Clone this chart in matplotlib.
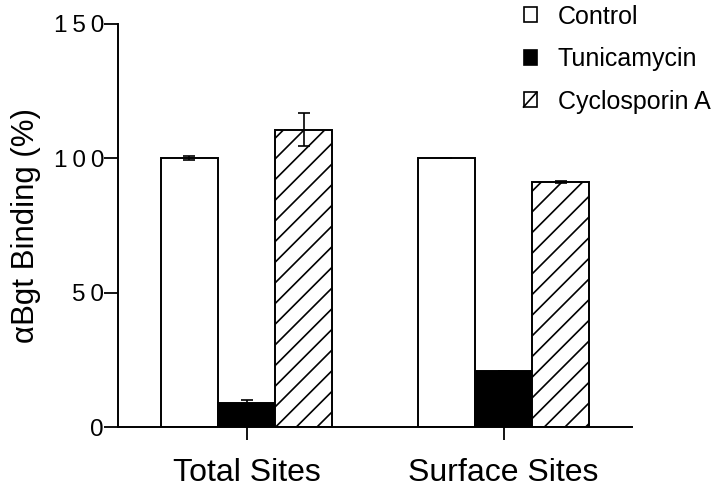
import numpy as np
import matplotlib.pyplot as plt
from matplotlib.patches import Patch, Rectangle
from matplotlib.lines import Line2D
from matplotlib.legend_handler import HandlerPatch

# render at 124 dpi so the '//' hatch spacing matches the original;
# all sizes below are written as "points at 100 dpi" and scaled by k
DPI = 124
k = 100 / DPI

plt.rcParams['font.family'] = ['Liberation Sans', 'DejaVu Sans']
plt.rcParams['hatch.linewidth'] = 1.2 * k

groups = ["Total Sites", "Surface Sites"]
series = ["Control", "Tunicamycin", "Cyclosporin A"]
control = [100, 100]
tunicamycin = [9, 21]
cyclosporin = [110.7, 91.2]
control_err = [0.8, 0]
tunicamycin_err = [0.9, 0]
cyclosporin_err = [6, 0.5]


class SquareHandler(HandlerPatch):
    # square swatch; hatched ones get a single diagonal like the print
    def create_artists(self, legend, orig_handle, xdescent, ydescent,
                       width, height, fontsize, trans):
        rect = Rectangle((-xdescent, -ydescent), width, height,
                         facecolor=orig_handle.get_facecolor(),
                         edgecolor="black", linewidth=1.2 * k, transform=trans)
        arts = [rect]
        if orig_handle.get_hatch():
            arts.append(Line2D([-xdescent, -xdescent + width],
                               [-ydescent, -ydescent + height],
                               color="black", linewidth=1.2 * k, transform=trans))
        return arts


fig = plt.figure(figsize=(720 / DPI, 489 / DPI), dpi=DPI)
ax = fig.add_axes([118 / 720, 1 - 427 / 489, (632 - 118) / 720, (427 - 24) / 489])

x = np.arange(len(groups))
w = 0.223
faces = ["white", "black", "white"]
hatches = [None, None, "//"]
values = [control, tunicamycin, cyclosporin]
errs = [control_err, tunicamycin_err, cyclosporin_err]
for i, (vals, err) in enumerate(zip(values, errs)):
    pos = x + (i - 1) * w
    ax.bar(pos, vals, width=w, edgecolor="black", linewidth=1.4 * k,
           facecolor=faces[i], hatch=hatches[i], zorder=2)
    ax.errorbar(pos, vals, yerr=err, fmt="none", ecolor="black",
                elinewidth=1.2 * k, capsize=4 * k, capthick=1.2 * k, zorder=3)

ax.set_xlim(-0.5, 1.5)
ax.set_ylim(0, 150)
ax.set_yticks([0, 50, 100, 150])
ax.set_yticklabels(["0", "5\u20090", "1\u20090\u20090", "1\u20095\u20090"])
ax.set_xticks(x)
ax.set_xticklabels(groups, fontsize=23 * k)
ax.tick_params(axis="y", labelsize=17.5 * k, length=10 * k, width=1.3 * k, pad=0)
ax.tick_params(axis="x", length=9 * k, width=1.3 * k, pad=13 * k)
for s in ["top", "right"]:
    ax.spines[s].set_visible(False)
for s in ["left", "bottom"]:
    ax.spines[s].set_linewidth(1.4 * k)
ax.set_ylabel("\u03b1Bgt Binding (%)", fontsize=22.5 * k, labelpad=9 * k)

handles = [Patch(facecolor=faces[i], hatch=hatches[i]) for i in range(3)]
fig.legend(handles, series, loc="upper left", bbox_to_anchor=(521 / 720, 1 - 2 / 489),
           handler_map={Patch: SquareHandler()},
           frameon=False, fontsize=18 * k, handlelength=0.53, handleheight=0.53,
           handletextpad=0.85, labelspacing=0.74, borderpad=0.1, borderaxespad=0)

fig.savefig("out.png", dpi=DPI)
